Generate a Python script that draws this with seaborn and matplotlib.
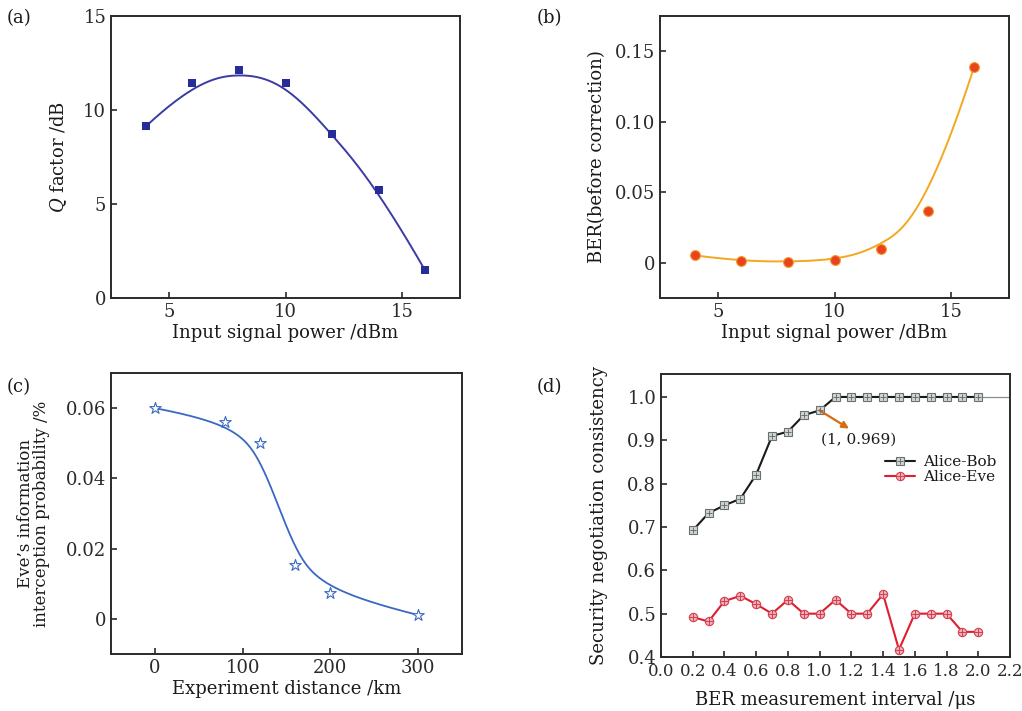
#!/usr/bin/env python3
"""Four-panel figure: Q factor, BER, Eve interception, negotiation consistency."""

import matplotlib
matplotlib.use("Agg")
import matplotlib.pyplot as plt
import numpy as np
import pandas as pd
import seaborn as sns

# (a) Q factor vs input power
POWER_A = [4, 6, 8, 10, 12, 14, 16]
Q_FACTOR = [9.13, 11.44, 12.12, 11.41, 8.72, 5.77, 1.47]

# (b) BER before correction vs input power
POWER_B = [4, 6, 8, 10, 12, 14, 16]
BER_BEFORE = [0.0052, 0.0010, 0.0007, 0.0019, 0.0100, 0.0370, 0.1388]

# (c) Eve interception probability vs distance
DISTANCE = [0, 80, 120, 160, 200, 300]
EVE_PROB = [0.0600, 0.0561, 0.0500, 0.0153, 0.0074, 0.0011]

# (d) consistency vs BER measurement interval
INTERVAL = [0.2, 0.3, 0.4, 0.5, 0.6, 0.7, 0.8, 0.9, 1.0, 1.1,
            1.2, 1.3, 1.4, 1.5, 1.6, 1.7, 1.8, 1.9, 2.0]
ALICE_BOB = [0.692, 0.732, 0.750, 0.765, 0.821, 0.910, 0.920, 0.958, 0.969, 1.0,
             1.0, 1.0, 1.0, 1.0, 1.0, 1.0, 1.0, 1.0, 1.0]
ALICE_EVE = [0.492, 0.482, 0.529, 0.541, 0.522, 0.500, 0.532, 0.500, 0.500, 0.532,
             0.500, 0.500, 0.545, 0.417, 0.500, 0.500, 0.500, 0.458, 0.458]

W, H = 1022, 711

sns.set_theme(style="ticks")
plt.rcParams.update({
    "font.family": ["DejaVu Serif"],
    "mathtext.fontset": "dejavuserif",
    "font.size": 13,
    "axes.labelsize": 13,
    "xtick.labelsize": 13,
    "ytick.labelsize": 13,
    "legend.fontsize": 10.5,
    "axes.edgecolor": "#2a2a2a",
    "axes.linewidth": 1.4,
    "xtick.direction": "in",
    "ytick.direction": "in",
    "xtick.major.size": 4,
    "ytick.major.size": 4,
    "xtick.major.width": 1.2,
    "ytick.major.width": 1.2,
    "xtick.color": "#2a2a2a",
    "ytick.color": "#2a2a2a",
    "text.color": "#1a1a1a",
    "axes.labelcolor": "#1a1a1a",
})


def box(left, top, right, bottom):
    return [left / W, 1 - bottom / H, (right - left) / W, (bottom - top) / H]


def bspline(px, py, num=400, degree=3):
    # clamped cubic B-spline that uses the data points as control points
    px = np.asarray(px, float)
    py = np.asarray(py, float)
    n = len(px)
    knots = np.concatenate([np.zeros(degree + 1), np.arange(1, n - degree),
                            np.full(degree + 1, n - degree)]).astype(float)
    t = np.linspace(0, n - degree, num)
    basis = np.zeros((num, len(knots) - 1))
    for i in range(len(knots) - 1):
        basis[:, i] = (knots[i] <= t) & (t < knots[i + 1])
    basis[-1, n - 1] = 1.0
    for d in range(1, degree + 1):
        nxt = np.zeros((num, len(knots) - 1 - d))
        for i in range(len(knots) - 1 - d):
            left = knots[i + d] - knots[i]
            right = knots[i + d + 1] - knots[i + 1]
            term = np.zeros(num)
            if left > 0:
                term += (t - knots[i]) / left * basis[:, i]
            if right > 0:
                term += (knots[i + d + 1] - t) / right * basis[:, i + 1]
            nxt[:, i] = term
        basis = nxt
    return pd.DataFrame({"x": basis @ px, "y": basis @ py})


fig = plt.figure(figsize=(W / 100, H / 100), dpi=100)

# ---- (a)
ax = fig.add_axes(box(111, 16, 460, 298))
sns.lineplot(data=bspline(POWER_A, Q_FACTOR), x="x", y="y", sort=False,
             color="#3b3ba6", lw=1.4, ax=ax)
sns.scatterplot(x=POWER_A, y=Q_FACTOR, marker="s", s=32, color="#262d98",
                linewidth=0, ax=ax, zorder=3)
ax.set_xlim(2.5, 17.5)
ax.set_ylim(0, 15)
ax.set_xticks([5, 10, 15])
ax.set_yticks([0, 5, 10, 15])
ax.set_xlabel("Input signal power /dBm", labelpad=2)
ax.set_ylabel("$Q$ factor /dB", labelpad=10)

# ---- (b)
ax = fig.add_axes(box(660, 16, 1009, 298))
sns.lineplot(data=bspline(POWER_B, BER_BEFORE), x="x", y="y", sort=False,
             color="#f4a81f", lw=1.4, ax=ax)
sns.scatterplot(x=POWER_B, y=BER_BEFORE, marker="o", s=50, color="#e8431c",
                edgecolor="#f29a30", linewidth=0.8, ax=ax, zorder=3)
ax.set_xlim(2.5, 17.5)
ax.set_ylim(-0.025, 0.175)
ax.set_xticks([5, 10, 15])
ax.set_yticks([0, 0.05, 0.10, 0.15])
ax.set_yticklabels(["0", "0.05", "0.10", "0.15"])
ax.set_xlabel("Input signal power /dBm", labelpad=2)
ax.set_ylabel("BER(before correction)", labelpad=6)

# ---- (c)
ax = fig.add_axes(box(111, 373, 462, 654))
sns.lineplot(data=bspline(DISTANCE, EVE_PROB), x="x", y="y", sort=False,
             color="#3a68c4", lw=1.3, ax=ax)
sns.scatterplot(x=DISTANCE, y=EVE_PROB, marker="*", s=75, facecolor="white",
                edgecolor="#3a68c4", linewidth=0.8, ax=ax, zorder=3)
ax.set_xlim(-50, 350)
ax.set_ylim(-0.01, 0.07)
ax.set_xticks([0, 100, 200, 300])
ax.set_yticks([0, 0.02, 0.04, 0.06])
ax.set_yticklabels(["0", "0.02", "0.04", "0.06"])
ax.set_xlabel("Experiment distance /km", labelpad=2)
ax.set_ylabel("Eve\u2019s information\ninterception probability /%",
              fontsize=12, linespacing=0.95, labelpad=11)

# ---- (d)
ax = fig.add_axes(box(661, 374, 1010, 657))
ax.hlines(1.0, INTERVAL[-1], 2.2, color="#8a9090", lw=0.9, zorder=1)
sns.lineplot(x=INTERVAL, y=ALICE_BOB, color="#1a1a1a", lw=1.5, marker="s",
             markersize=5.5, markerfacecolor="#d0d4d4", markeredgecolor="#6a7070",
             markeredgewidth=0.8, ax=ax, zorder=3)
bob_line = ax.lines[-1]
sns.lineplot(x=INTERVAL, y=ALICE_EVE, color="#e01e2e", lw=1.5, marker="o",
             markersize=6, markerfacecolor="#f2b0b8", markeredgecolor="#d04050",
             markeredgewidth=0.8, ax=ax, zorder=3)
eve_line = ax.lines[-1]
bob_plus, = ax.plot(INTERVAL, ALICE_BOB, ls="none", marker="+", ms=5,
                    mew=0.7, color="#6a7070", zorder=4)
eve_plus, = ax.plot(INTERVAL, ALICE_EVE, ls="none", marker="+", ms=5.5,
                    mew=0.7, color="#d04050", zorder=4)
ax.legend([(bob_line, bob_plus), (eve_line, eve_plus)], ["Alice-Bob", "Alice-Eve"],
          loc="upper right", bbox_to_anchor=(0.978, 0.735), frameon=False,
          handlelength=2.0, handletextpad=0.5, labelspacing=0.05,
          borderaxespad=0, fontsize=11)
ax.annotate("", xy=(1.185, 0.927), xytext=(INTERVAL[8], ALICE_BOB[8]),
            arrowprops=dict(arrowstyle="-|>", color="#d86a10", lw=1.6,
                            mutation_scale=10, shrinkA=0, shrinkB=0))
ax.text(1.245, 0.901, f"(1, {ALICE_BOB[8]:.3f})", ha="center", va="center",
        fontsize=11)
ax.set_xlim(0, 2.2)
ax.set_ylim(0.4, 1.053)
ax.set_xticks(np.round(np.arange(0, 2.21, 0.2), 1))
ax.set_xticklabels([f"{v:.1f}" for v in np.arange(0, 2.21, 0.2)], fontsize=12)
ax.set_yticks(np.round(np.arange(0.4, 1.01, 0.1), 1))
ax.set_yticklabels([f"{v:.1f}" for v in np.arange(0.4, 1.01, 0.1)])
ax.tick_params(axis="x", pad=4)
ax.set_xlabel("BER measurement interval /\u03bcs", labelpad=8)
ax.set_ylabel("Security negotiation consistency", labelpad=14)

for label, (px, py) in zip(["(a)", "(b)", "(c)", "(d)"],
                           [(7, 18), (537, 18), (7, 387), (537, 387)]):
    fig.text(px / W, 1 - py / H, label, ha="left", va="center", fontsize=13)

fig.savefig("out.png", dpi=100)
